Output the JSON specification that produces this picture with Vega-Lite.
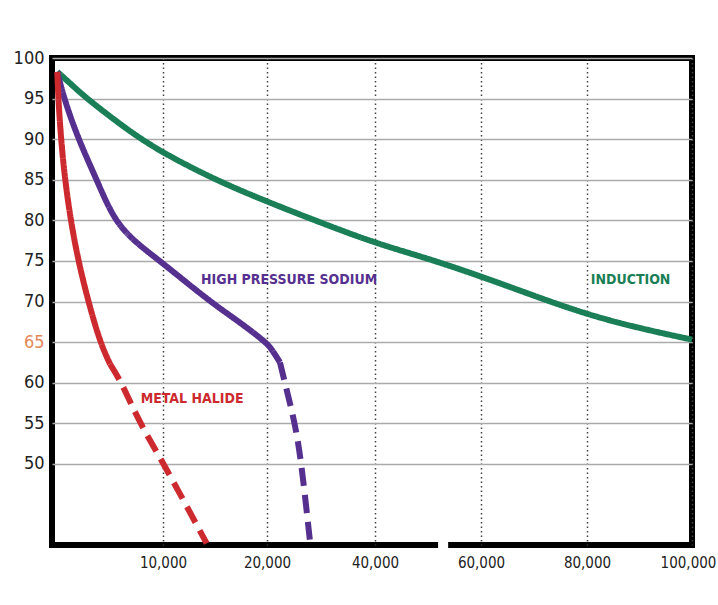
{
  "$schema": "https://vega.github.io/schema/vega-lite/v6.json",
  "width": 640,
  "height": 487,
  "autosize": "none",
  "padding": {"left": 52, "top": 58, "right": 26, "bottom": 60},
  "background": "white",
  "config": {
    "view": {"stroke": "#000000", "strokeWidth": 6, "fill": "white"},
    "font": "'Liberation Sans Narrow', 'DejaVu Sans Condensed', sans-serif"
  },
  "datasets": {
    "curves": [
      {"lamp": "Induction", "part": "solid", "hours": 477, "lumens": 98.3},
      {"lamp": "Induction", "part": "solid", "hours": 1620, "lumens": 96.9},
      {"lamp": "Induction", "part": "solid", "hours": 3126, "lumens": 95.0},
      {"lamp": "Induction", "part": "solid", "hours": 7027, "lumens": 90.9},
      {"lamp": "Induction", "part": "solid", "hours": 10000, "lumens": 88.3},
      {"lamp": "Induction", "part": "solid", "hours": 15000, "lumens": 85.0},
      {"lamp": "Induction", "part": "solid", "hours": 20000, "lumens": 82.3},
      {"lamp": "Induction", "part": "solid", "hours": 30000, "lumens": 79.7},
      {"lamp": "Induction", "part": "solid", "hours": 40000, "lumens": 77.2},
      {"lamp": "Induction", "part": "solid", "hours": 50000, "lumens": 75.3},
      {"lamp": "Induction", "part": "solid", "hours": 60000, "lumens": 73.1},
      {"lamp": "Induction", "part": "solid", "hours": 70000, "lumens": 70.7},
      {"lamp": "Induction", "part": "solid", "hours": 80000, "lumens": 68.4},
      {"lamp": "Induction", "part": "solid", "hours": 90000, "lumens": 66.7},
      {"lamp": "Induction", "part": "solid", "hours": 100000, "lumens": 65.3},

      {"lamp": "High Pressure Sodium", "part": "solid", "hours": 477, "lumens": 98.3},
      {"lamp": "High Pressure Sodium", "part": "solid", "hours": 1081, "lumens": 95.0},
      {"lamp": "High Pressure Sodium", "part": "solid", "hours": 2369, "lumens": 90.0},
      {"lamp": "High Pressure Sodium", "part": "solid", "hours": 4027, "lumens": 85.0},
      {"lamp": "High Pressure Sodium", "part": "solid", "hours": 5590, "lumens": 80.0},
      {"lamp": "High Pressure Sodium", "part": "solid", "hours": 7500, "lumens": 77.3},
      {"lamp": "High Pressure Sodium", "part": "solid", "hours": 9730, "lumens": 75.0},
      {"lamp": "High Pressure Sodium", "part": "solid", "hours": 14500, "lumens": 70.0},
      {"lamp": "High Pressure Sodium", "part": "solid", "hours": 17000, "lumens": 67.8},
      {"lamp": "High Pressure Sodium", "part": "solid", "hours": 19900, "lumens": 65.0},
      {"lamp": "High Pressure Sodium", "part": "solid", "hours": 20900, "lumens": 64.1},
      {"lamp": "High Pressure Sodium", "part": "solid", "hours": 22400, "lumens": 62.5},
      {"lamp": "High Pressure Sodium", "part": "dashed", "hours": 22400, "lumens": 62.5},
      {"lamp": "High Pressure Sodium", "part": "dashed", "hours": 23300, "lumens": 60.0},
      {"lamp": "High Pressure Sodium", "part": "dashed", "hours": 25200, "lumens": 55.0},
      {"lamp": "High Pressure Sodium", "part": "dashed", "hours": 26400, "lumens": 50.0},
      {"lamp": "High Pressure Sodium", "part": "dashed", "hours": 28000, "lumens": 40.2},

      {"lamp": "Metal Halide", "part": "solid", "hours": 477, "lumens": 98.3},
      {"lamp": "Metal Halide", "part": "solid", "hours": 568, "lumens": 95.0},
      {"lamp": "Metal Halide", "part": "solid", "hours": 811, "lumens": 90.0},
      {"lamp": "Metal Halide", "part": "solid", "hours": 1171, "lumens": 85.0},
      {"lamp": "Metal Halide", "part": "solid", "hours": 1685, "lumens": 80.0},
      {"lamp": "Metal Halide", "part": "solid", "hours": 2369, "lumens": 75.0},
      {"lamp": "Metal Halide", "part": "solid", "hours": 3270, "lumens": 70.0},
      {"lamp": "Metal Halide", "part": "solid", "hours": 4324, "lumens": 65.0},
      {"lamp": "Metal Halide", "part": "solid", "hours": 5225, "lumens": 62.3},
      {"lamp": "Metal Halide", "part": "dashed", "hours": 5225, "lumens": 62.3},
      {"lamp": "Metal Halide", "part": "dashed", "hours": 6280, "lumens": 60.0},
      {"lamp": "Metal Halide", "part": "dashed", "hours": 7900, "lumens": 55.0},
      {"lamp": "Metal Halide", "part": "dashed", "hours": 10000, "lumens": 50.2},
      {"lamp": "Metal Halide", "part": "dashed", "hours": 14200, "lumens": 40.2}
    ],
    "labels": [
      {"lamp": "High Pressure Sodium", "label": "HIGH PRESSURE SODIUM", "hours": 24100, "lumens": 72.6},
      {"lamp": "Induction", "label": "INDUCTION", "hours": 88300, "lumens": 72.6},
      {"lamp": "Metal Halide", "label": "METAL HALIDE", "hours": 12800, "lumens": 58.0}
    ],
    "axisBreak": [
      {"hours": 51900, "hours2": 53800}
    ]
  },
  "layer": [
    {
      "data": {"name": "curves"},
      "mark": {"type": "line", "strokeWidth": 6, "interpolate": "basis"},
      "encoding": {
        "x": {
          "field": "hours",
          "type": "quantitative",
          "scale": {
            "domain": [0, 10000, 20000, 40000, 60000, 80000, 100000],
            "range": [0, 111, 215, 323, 429, 535, 640]
          },
          "axis": {
            "title": null,
            "values": [10000, 20000, 40000, 60000, 80000, 100000],
            "format": ",d",
            "domain": false,
            "ticks": false,
            "labelFlush": false,
            "labelOverlap": false,
            "labelPadding": 10,
            "labelFontSize": 15,
            "labelOffset": {
              "condition": {"test": "datum.value == 100000", "value": -4},
              "value": 0
            },
            "labelColor": "#222222",
            "gridColor": "#444444",
            "gridDash": [1.5, 3],
            "gridWidth": 1.5
          }
        },
        "y": {
          "field": "lumens",
          "type": "quantitative",
          "scale": {"domain": [40, 100], "nice": false, "zero": false},
          "axis": {
            "title": null,
            "values": [50, 55, 60, 65, 70, 75, 80, 85, 90, 95, 100],
            "domain": false,
            "ticks": false,
            "labelOverlap": false,
            "labelPadding": 8,
            "labelFontSize": 18,
            "labelColor": {
              "condition": {"test": "datum.value == 65", "value": "#e3875a"},
              "value": "#222222"
            },
            "gridColor": "#aaaaaa",
            "gridWidth": 1.5
          }
        },
        "color": {
          "field": "lamp",
          "type": "nominal",
          "scale": {
            "domain": ["Metal Halide", "High Pressure Sodium", "Induction"],
            "range": ["#cc2a2e", "#56308f", "#1a7f56"]
          },
          "legend": null
        },
        "strokeDash": {
          "field": "part",
          "type": "nominal",
          "scale": {"domain": ["solid", "dashed"], "range": [[1, 0], [18, 9]]},
          "legend": null
        }
      }
    },
    {
      "data": {"name": "axisBreak"},
      "mark": {"type": "rect", "color": "white"},
      "encoding": {
        "x": {"field": "hours", "type": "quantitative"},
        "x2": {"field": "hours2"},
        "y": {"datum": 39.4},
        "y2": {"datum": 40.6}
      }
    },
    {
      "data": {"name": "labels"},
      "mark": {"type": "text", "fontWeight": "bold", "fontSize": 14},
      "encoding": {
        "x": {"field": "hours", "type": "quantitative"},
        "y": {"field": "lumens", "type": "quantitative"},
        "text": {"field": "label"},
        "color": {"field": "lamp", "type": "nominal", "legend": null}
      }
    }
  ]
}
